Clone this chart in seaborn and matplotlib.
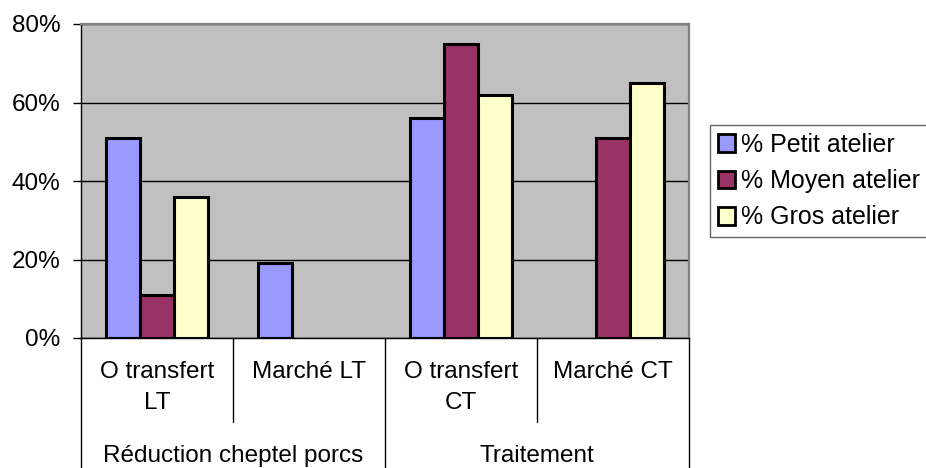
import matplotlib
matplotlib.use("Agg")
import matplotlib.pyplot as plt
import matplotlib.transforms as mtransforms
from matplotlib.patches import Patch
from matplotlib.ticker import FuncFormatter
import pandas as pd
import seaborn as sns

# Sub-categories (level 1) and their parent groups (level 2)
categories = ["O transfert\nLT", "Marché LT", "O transfert\nCT", "Marché CT"]
groups = ["Réduction cheptel porcs", "Traitement"]
group_spans = [(0, 1), (2, 3)]

series = ["% Petit atelier", "% Moyen atelier", "% Gros atelier"]
petit = [0.51, 0.19, 0.56, None]
moyen = [0.11, None, 0.75, 0.51]
gros = [0.36, None, 0.62, 0.65]

colors = ["#9999FF", "#993366", "#FFFFCC"]
y_ticks = [0.0, 0.2, 0.4, 0.6, 0.8]

rows = []
for name, vals in zip(series, [petit, moyen, gros]):
    for cat, v in zip(categories, vals):
        rows.append({"categorie": cat, "serie": name, "valeur": v})
df = pd.DataFrame(rows).dropna()

sns.set_theme(style="white")
plt.rcParams["font.family"] = ["Liberation Sans", "DejaVu Sans"]
plt.rcParams["text.color"] = "black"
FS = 17.5

W, H = 926, 468
fig = plt.figure(figsize=(W / 100, H / 100), dpi=100)
ax = fig.add_axes([81 / W, (H - 338) / H, (689 - 81) / W, (338 - 24) / H])
ax.set_facecolor("#C0C0C0")

sns.barplot(
    data=df, x="categorie", y="valeur", hue="serie",
    order=categories, hue_order=series, palette=colors,
    width=0.677, gap=0, errorbar=None, edgecolor="black",
    linewidth=2.2, saturation=1, ax=ax, legend=False, zorder=3,
)

ax.set_xlim(-0.5, len(categories) - 0.5)
ax.set_ylim(0, 0.8)
ax.set_yticks(y_ticks)
ax.yaxis.set_major_formatter(FuncFormatter(lambda v, _: f"{v * 100:.0f}%"))
ax.grid(axis="y", color="black", linewidth=1, zorder=1)
ax.set_axisbelow(True)
ax.tick_params(axis="y", which="major", left=True, length=6, width=1,
               color="black", pad=9, labelsize=FS, labelcolor="black")
ax.set_xticks([])
ax.set_xlabel("")
ax.set_ylabel("")

for side in ("top", "right"):
    ax.spines[side].set_color("#808080")
    ax.spines[side].set_linewidth(1.6)
ax.spines["left"].set_color("black")
ax.spines["left"].set_linewidth(1)
ax.spines["bottom"].set_color("black")
ax.spines["bottom"].set_linewidth(1)

# Two-level category axis drawn below the plot area
trans = mtransforms.blended_transform_factory(ax.transData, fig.transFigure)


def fy(px):
    return 1 - px / H


outer = {-0.5, 1.5, 3.5}
for b in [-0.5, 0.5, 1.5, 2.5, 3.5]:
    bottom = 0 if b in outer else 422
    ax.plot([b, b], [fy(338), fy(bottom) if bottom else 0], transform=trans,
            color="black", linewidth=1, clip_on=False)

for i, cat in enumerate(categories):
    ax.text(i, fy(361), cat, transform=trans, ha="center", va="top",
            fontsize=FS, linespacing=1.55, color="black")

for name, (a, b) in zip(groups, group_spans):
    ax.text((a + b) / 2, fy(456), name, transform=trans, ha="center",
            va="center", fontsize=FS, color="black")

handles = [Patch(facecolor=c, edgecolor="black", linewidth=2) for c in colors]
leg = ax.legend(
    handles=handles, labels=series, loc="upper left",
    bbox_to_anchor=(710 / W, 1 - 125 / H), bbox_transform=fig.transFigure,
    frameon=True, fancybox=False, fontsize=18, handlelength=0.7,
    handleheight=0.7, handletextpad=0.25, labelspacing=0.5,
    borderpad=0.3, borderaxespad=0, labelcolor="black",
)
leg.get_frame().set_edgecolor("#404040")
leg.get_frame().set_linewidth(1)

fig.savefig("out.png", dpi=100, facecolor="white")
